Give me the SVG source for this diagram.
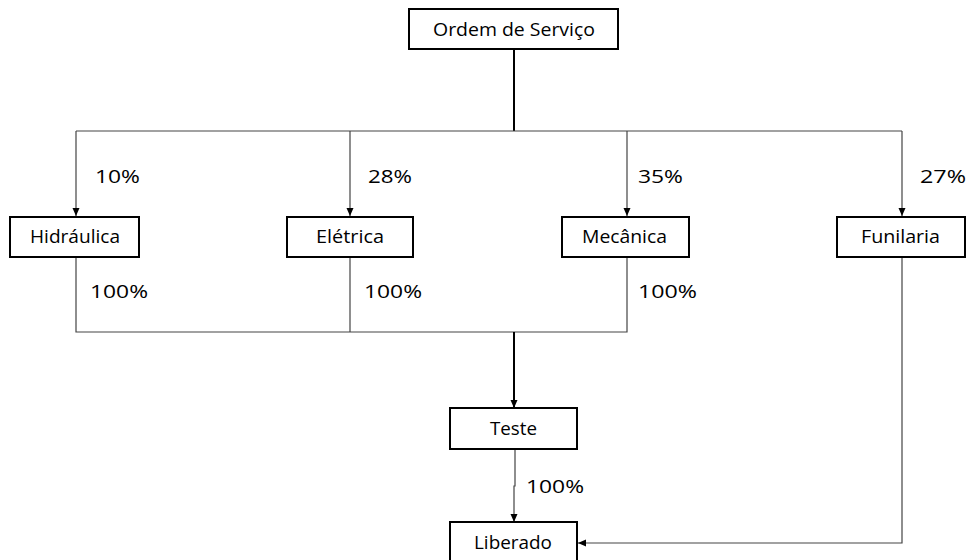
<svg xmlns="http://www.w3.org/2000/svg" width="968" height="560" viewBox="0 0 968 560">
<style>
.box{fill:#fff;stroke:#000;stroke-width:2}
.t{font-family:"Open Sans","DejaVu Sans",sans-serif;font-size:18px;fill:#000}
.ln{fill:none;stroke:#444;stroke-width:1.2}
.thick{fill:none;stroke:#000;stroke-width:2}
</style>
<defs>
<marker id="ah" viewBox="0 0 8 8" refX="8" refY="4" markerWidth="8" markerHeight="8" markerUnits="userSpaceOnUse" orient="auto">
<path d="M0,0.5 L8,4 L0,7.5 Z" fill="#000"/>
</marker>
</defs>
<rect width="968" height="560" fill="#fff"/>
<g id="connectors">
<path class="thick" d="M514,49 V131"/>
<path class="ln" d="M76,131 H902"/>
<path class="ln" d="M76,131 V216" marker-end="url(#ah)"/>
<path class="ln" d="M350,131 V216" marker-end="url(#ah)"/>
<path class="ln" d="M627,131 V216" marker-end="url(#ah)"/>
<path class="ln" d="M902,131 V216" marker-end="url(#ah)"/>
<path class="ln" d="M76,257 V332 H627 V257"/>
<path class="ln" d="M350,257 V332"/>
<path class="thick" d="M514,332 V408" marker-end="url(#ah)"/>
<path class="ln" d="M515,449 V486 H514 V522" marker-end="url(#ah)"/>
<path class="ln" d="M902,257 V543 H578" marker-end="url(#ah)"/>
</g>
<g id="labels">
<text class="t" x="95" y="183" textLength="45" lengthAdjust="spacingAndGlyphs">10%</text>
<text class="t" x="368" y="183" textLength="44" lengthAdjust="spacingAndGlyphs">28%</text>
<text class="t" x="638" y="183" textLength="45" lengthAdjust="spacingAndGlyphs">35%</text>
<text class="t" x="920" y="183" textLength="46" lengthAdjust="spacingAndGlyphs">27%</text>
<text class="t" x="90" y="298" textLength="58" lengthAdjust="spacingAndGlyphs">100%</text>
<text class="t" x="364" y="298" textLength="58" lengthAdjust="spacingAndGlyphs">100%</text>
<text class="t" x="638" y="298" textLength="59" lengthAdjust="spacingAndGlyphs">100%</text>
<text class="t" x="526" y="493" textLength="58" lengthAdjust="spacingAndGlyphs">100%</text>
</g>
<g id="ordem">
<rect class="box" x="409" y="9" width="209" height="40"/>
<text class="t" x="433" y="36" textLength="162" lengthAdjust="spacingAndGlyphs">Ordem de Serviço</text>
</g>
<g id="hidraulica">
<rect class="box" x="10" y="217" width="129" height="40"/>
<text class="t" x="30" y="243" textLength="90" lengthAdjust="spacingAndGlyphs">Hidráulica</text>
</g>
<g id="eletrica">
<rect class="box" x="287" y="217" width="126" height="40"/>
<text class="t" x="316" y="243" textLength="68" lengthAdjust="spacingAndGlyphs">Elétrica</text>
</g>
<g id="mecanica">
<rect class="box" x="562" y="217" width="127" height="40"/>
<text class="t" x="582" y="243" textLength="85" lengthAdjust="spacingAndGlyphs">Mecânica</text>
</g>
<g id="funilaria">
<rect class="box" x="837" y="217" width="128" height="40"/>
<text class="t" x="861" y="243" textLength="79" lengthAdjust="spacingAndGlyphs">Funilaria</text>
</g>
<g id="teste">
<rect class="box" x="450" y="408" width="127" height="41"/>
<text class="t" x="490" y="435" textLength="47" lengthAdjust="spacingAndGlyphs">Teste</text>
</g>
<g id="liberado">
<rect class="box" x="450" y="522" width="127" height="40"/>
<text class="t" x="474" y="549" textLength="78" lengthAdjust="spacingAndGlyphs">Liberado</text>
</g>
</svg>
